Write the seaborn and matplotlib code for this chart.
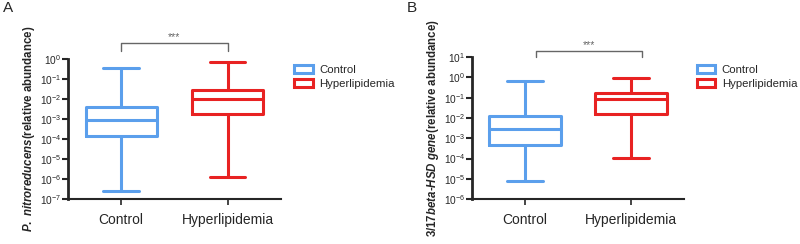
import numpy as np
import pandas as pd
import matplotlib
matplotlib.use("Agg")
import matplotlib.pyplot as plt
import seaborn as sns

sns.set_style("ticks")
plt.rcParams['font.family'] = ['Liberation Sans', 'DejaVu Sans']
plt.rcParams['mathtext.fontset'] = 'custom'
plt.rcParams['mathtext.rm'] = 'Liberation Sans:bold'
plt.rcParams['mathtext.it'] = 'Liberation Sans:italic:bold'
plt.rcParams['mathtext.default'] = 'rm'

groups = ["Control", "Hyperlipidemia"]
colors = {"Control": "#5B9FEC", "Hyperlipidemia": "#E82222"}

# five-number summaries: min, Q1, median, Q3, max
a_control = [2.5e-7, 1.35e-4, 9e-4, 4.0e-3, 0.34]
a_hyper = [1.3e-6, 1.8e-3, 1.05e-2, 2.9e-2, 0.75]
b_control = [7.6e-6, 4.5e-4, 2.8e-3, 1.2e-2, 0.63]
b_hyper = [1.1e-4, 1.5e-2, 8.9e-2, 0.17, 0.9]

ylab_a = r"$\mathit{P.\ nitroreducens}$(relative abundance)"
ylab_b = "$\\mathit{3/17beta\u2010HSD\\ gene}$(relative abundance)"


def make_df(c, h):
    return pd.DataFrame({"group": ["Control"] * len(c) + ["Hyperlipidemia"] * len(h),
                         "value": c + h})


fig = plt.figure(figsize=(8, 2.44), dpi=100)
ax1 = fig.add_axes([0.085, 0.184, 0.266, 0.574])
ax2 = fig.add_axes([0.590, 0.184, 0.265, 0.582])

panels = [
    (ax1, make_df(a_control, a_hyper), ylab_a, (1e-7, 1e0), "A", 0.004, (0, 1), (1.114, 1.057), 0.368),
    (ax2, make_df(b_control, b_hyper), ylab_b, (1e-6, 1e1), "B", 0.508, (0.1, 1.1), (1.044, 1.0), 0.871),
]

for ax, df, ylab, ylim, letter, lx, bx, by, legx in panels:
    sns.boxplot(data=df, x="group", y="value", hue="group", palette=colors,
                fill=False, whis=(0, 100), showfliers=False, width=0.67,
                linewidth=2.2, log_scale=True, legend=True, ax=ax)
    ax.set_ylim(*ylim)
    ax.set_xlim(-0.5, 1.5)
    ax.minorticks_off()
    ax.yaxis.set_major_locator(matplotlib.ticker.LogLocator(base=10, numticks=20))
    ax.yaxis.set_minor_locator(matplotlib.ticker.NullLocator())
    ax.set_xlabel("")
    ax.set_ylabel(ylab, fontsize=8.3, fontweight="bold", labelpad=2)
    ax.tick_params(axis="y", labelsize=7.3, width=1.5, length=4, pad=1)
    ax.tick_params(axis="x", labelsize=10, width=1.2, length=4, pad=6)
    for s in ["top", "right"]:
        ax.spines[s].set_visible(False)
    ax.spines["left"].set_linewidth(2)
    ax.spines["bottom"].set_linewidth(1.5)
    # significance bracket
    trans = matplotlib.transforms.blended_transform_factory(ax.transData, ax.transAxes)
    ax.plot([bx[0], bx[0], bx[1], bx[1]], [by[1], by[0], by[0], by[1]],
            color="#666666", lw=1.0, transform=trans, clip_on=False)
    ax.text((bx[0] + bx[1]) / 2, by[0] + 0.005, "***", color="#666666", fontsize=7.5,
            ha="center", va="bottom", transform=trans)
    fig.text(lx, 0.995, letter, fontsize=11, ha="left", va="top")
    leg = ax.legend(loc="upper left", bbox_to_anchor=(legx, 0.735),
                    bbox_transform=fig.transFigure, frameon=False, fontsize=8.2,
                    handlelength=1.6, handleheight=0.7, handletextpad=0.6,
                    labelspacing=0.35, borderaxespad=0, borderpad=0)

fig.savefig("out.png", dpi=100)
